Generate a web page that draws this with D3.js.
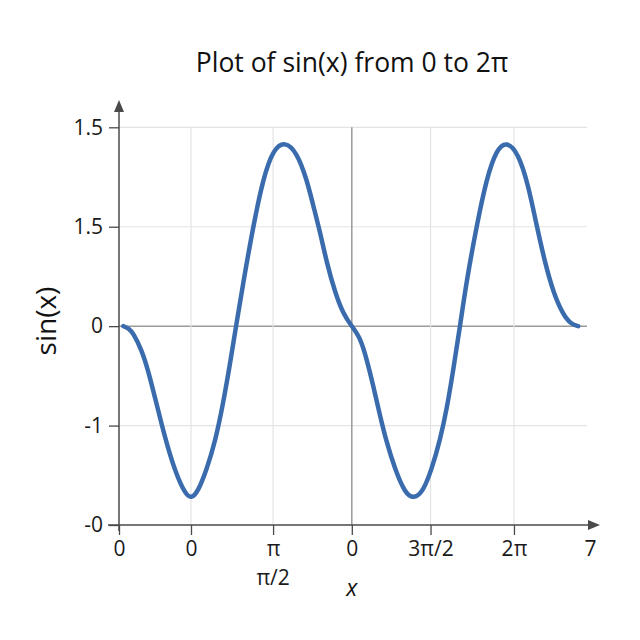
<!DOCTYPE html>
<html>
<head>
<meta charset="utf-8">
<script src="https://cdn.jsdelivr.net/npm/d3@7"></script>
<style>
  html, body { margin: 0; padding: 0; background: #fff; }
  svg { display: block; font-family: "Open Sans", "Noto Sans", sans-serif; }
</style>
</head>
<body>
<svg id="chart" width="640" height="640"></svg>
<script>
// ---- data ----
const curveX = [0.064, 0.14, 0.213, 0.337, 0.435, 0.535, 0.635, 0.733, 0.857, 0.981, 1.070,
  1.178, 1.303, 1.427, 1.550, 1.650, 1.749, 1.847, 1.996, 2.144, 2.293,
  2.467, 2.641, 2.789, 2.888, 2.987, 3.087, 3.210, 3.334, 3.458, 3.582,
  3.681, 3.779, 3.879, 3.978, 4.102, 4.250, 4.384, 4.522, 4.647, 4.770,
  4.870, 4.968, 5.068, 5.167, 5.316, 5.464, 5.613, 5.762, 5.934, 6.083,
  6.207, 6.331, 6.454, 6.603, 6.72, 6.826];
const curveY = [0, -0.02, -0.07, -0.24, -0.45, -0.72, -0.99, -1.24, -1.50, -1.68, -1.74,
  -1.66, -1.44, -1.17, -0.77, -0.38, 0.04, 0.44, 1.01, 1.49, 1.78,
  1.86, 1.75, 1.48, 1.21, 0.95, 0.64, 0.34, 0.12, 0.0, -0.11,
  -0.33, -0.60, -0.90, -1.17, -1.44, -1.68, -1.74, -1.66, -1.44, -1.15,
  -0.84, -0.44, 0.0, 0.46, 1.01, 1.49, 1.78, 1.86, 1.74, 1.42,
  1.01, 0.64, 0.34, 0.11, 0.02, 0];

const xTickValues = [0, 1.07, 2.29, 3.46, 4.63, 5.87, 7];
const xTickLabels = ["0", "0", "π", "0", "3π/2", "2π", "7"];
const xSubLabelValue = 2.29;
const xSubLabel = "π/2";
const yTickValues = [2, 1, 0, -1, -2];
const yTickLabels = ["1.5", "1.5", "0", "-1", "-0"];

const titleText = "Plot of sin(x) from 0 to 2π";
const xLabelText = "x";
const yLabelText = "sin(x)";

// ---- layout ----
const svg = d3.select("#chart");
const left = 119, right = 590, xAxisEnd = 600;
const x = d3.scaleLinear().domain([0, 7]).range([left, right]);
const y = d3.scaleLinear().domain([-2, 2]).range([525, 127.3]);
const gridRight = 587;
const yTop = 100;

const axisColor = "#4a4a4a";
const gridColor = "#e4e4e4";
const zeroColor = "#9a9a9a";
const lineColor = "#3a6cad";

// gridlines
const grid = svg.append("g");
grid.selectAll("line.h").data(yTickValues.filter(v => v !== -2)).join("line")
  .attr("x1", left).attr("x2", gridRight)
  .attr("y1", d => y(d)).attr("y2", d => y(d))
  .attr("stroke", d => d === 0 ? zeroColor : gridColor)
  .attr("stroke-width", d => d === 0 ? 1.5 : 1.2);
grid.selectAll("line.v").data(xTickValues.filter(v => v !== 0 && v !== 7)).join("line")
  .attr("x1", d => x(d)).attr("x2", d => x(d))
  .attr("y1", y(2)).attr("y2", y(-2))
  .attr("stroke", (d, i) => i === 2 ? zeroColor : gridColor)
  .attr("stroke-width", (d, i) => i === 2 ? 1.5 : 1.2);

// curve
const pts = curveX.map((v, i) => [v, curveY[i]]);
svg.append("path")
  .datum(pts)
  .attr("fill", "none")
  .attr("stroke", lineColor)
  .attr("stroke-width", 4.5)
  .attr("stroke-linecap", "round")
  .attr("stroke-linejoin", "round")
  .attr("d", d3.line().x(d => x(d[0])).y(d => y(d[1])).curve(d3.curveBasis));

// x axis
const xAxis = d3.axisBottom(x)
  .tickValues(xTickValues)
  .tickFormat((d, i) => xTickLabels[i])
  .tickSize(10).tickSizeOuter(0).tickPadding(6);
const gx = svg.append("g").attr("transform", `translate(0,${y(-2)})`).call(xAxis);
gx.select(".domain").remove();
gx.selectAll(".tick line").attr("stroke", axisColor).attr("stroke-width", 1.3)
  .attr("display", d => d === 7 ? "none" : null);
gx.selectAll(".tick text").attr("font-size", 21).attr("fill", "#1a1a1a")
  .attr("font-family", "Open Sans, sans-serif");
svg.append("line").attr("x1", 108).attr("x2", xAxisEnd - 8)
  .attr("y1", y(-2)).attr("y2", y(-2)).attr("stroke", axisColor).attr("stroke-width", 1.5);
svg.append("path")
  .attr("d", `M${xAxisEnd},${y(-2)} L${xAxisEnd - 12},${y(-2) - 5} L${xAxisEnd - 12},${y(-2) + 5} Z`)
  .attr("fill", axisColor);

// y axis
const yAxis = d3.axisLeft(y)
  .tickValues(yTickValues)
  .tickFormat((d, i) => yTickLabels[i])
  .tickSize(10).tickSizeOuter(0).tickPadding(6);
const gy = svg.append("g").attr("transform", `translate(${left},0)`).call(yAxis);
gy.select(".domain").remove();
gy.selectAll(".tick line").attr("stroke", axisColor).attr("stroke-width", 1.3);
gy.selectAll(".tick text").attr("font-size", 21).attr("fill", "#1a1a1a")
  .attr("font-family", "Open Sans, sans-serif");
svg.append("line").attr("x1", left).attr("x2", left)
  .attr("y1", y(-2) + 6).attr("y2", yTop + 8).attr("stroke", axisColor).attr("stroke-width", 1.5);
svg.append("path")
  .attr("d", `M${left},${yTop} L${left - 5},${yTop + 12} L${left + 5},${yTop + 12} Z`)
  .attr("fill", axisColor);

// secondary label under π
svg.append("text").attr("x", x(xSubLabelValue)).attr("y", 585)
  .attr("text-anchor", "middle").attr("font-size", 21).attr("fill", "#1a1a1a")
  .text(xSubLabel);

// titles
svg.append("text").attr("x", 352).attr("y", 72)
  .attr("text-anchor", "middle").attr("font-size", 26.5).attr("fill", "#111")
  .text(titleText);
svg.append("text").attr("x", x(3.46)).attr("y", 596)
  .attr("text-anchor", "middle").attr("font-size", 23).attr("font-style", "italic").attr("fill", "#111")
  .text(xLabelText);
svg.append("text").attr("transform", `translate(56,321) rotate(-90)`)
  .attr("text-anchor", "middle").attr("font-size", 28).attr("fill", "#111")
  .text(yLabelText);
</script>
</body>
</html>
